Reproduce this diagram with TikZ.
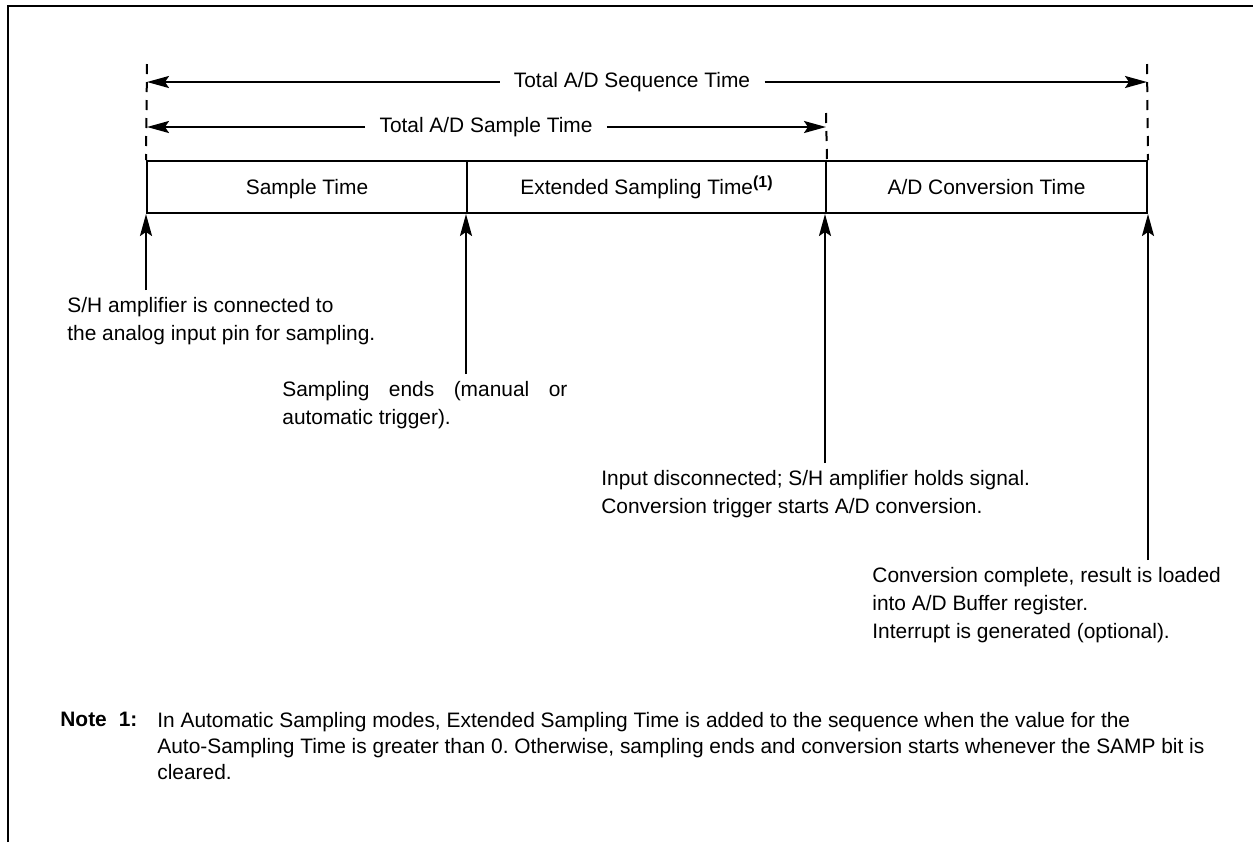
\documentclass[tikz,border=0pt]{standalone}
\usepackage{fontspec}
\setmainfont{Liberation Sans}
\usetikzlibrary{arrows.meta}
\frenchspacing

\newcommand{\diagfont}{\fontsize{10.45pt}{14pt}\selectfont}
\newcommand{\notefont}{\fontsize{10.45pt}{13pt}\selectfont}
\newcommand{\notemark}[1]{\raisebox{3.5pt}{\fontsize{8pt}{8pt}\selectfont\bfseries(#1)}}

\begin{document}
\begin{tikzpicture}[x=0.5pt,y=-0.5pt,>={Stealth[length=11pt,width=6pt,inset=2pt]},
  font=\diagfont,
  cell/.style={draw,line width=1pt,minimum height=26pt,inner sep=0pt,text height=7.5pt,text depth=0pt},
  dashline/.style={line width=1pt,dash pattern=on 5pt off 4pt},
  lead/.style={line width=1pt,->},
  spanlabel/.style={inner xsep=7pt,inner ysep=0pt},
  callout/.style={anchor=north west,align=left,inner sep=0pt}]
\useasboundingbox (0,0) rectangle (1253,842);
\draw[line width=1pt] (8,842) -- (8,6) -- (1253,6);
% the three phases
\node[cell,minimum width=160pt] (smp) at (307,187) {Sample Time};
\node[cell,minimum width=179.5pt] (ext) at (646.5,187) {Extended Sampling Time\notemark{1}};
\node[cell,minimum width=160.5pt] (conv) at (986.5,187) {A/D Conversion Time};
% dashed markers
\coordinate (ltop) at (147,64);
\coordinate (rtop) at (1147,64);
\coordinate (mtop) at (826,113);
\draw[dashline] (ltop) -- (smp.north west);
\draw[dashline] (rtop) -- (conv.north east);
\draw[dashline] (mtop) -- (ext.north east);
% spans
\node[spanlabel] (seq) at (632,82) {Total A/D Sequence Time};
\draw[lead] (seq) -- (seq -| ltop);
\draw[lead] (seq) -- (seq -| rtop);
\node[spanlabel] (samp) at (486,127) {Total A/D Sample Time};
\draw[lead] (samp) -- (samp -| ltop);
\draw[lead] (samp) -- (samp -| mtop);
% events
\node[callout] (sh) at (67,297) {S/H amplifier is connected to\\the analog input pin for sampling.};
\draw[lead] ([yshift=3.5pt]sh.north -| smp.south west) -- (smp.south west);
\node[callout] (send) at (282,381) {\makebox[142.5pt][s]{Sampling ends (manual or}\\automatic trigger).};
\draw[lead] ([yshift=3.5pt]send.north -| ext.south west) -- (ext.south west);
\node[callout] (hold) at (601,470) {Input disconnected; S/H amplifier holds signal.\\Conversion trigger starts A/D conversion.};
\draw[lead] ([yshift=3.5pt]hold.north -| conv.south west) -- (conv.south west);
\node[callout] (done) at (872,567) {Conversion complete, result is loaded\\into A/D Buffer register.\\Interrupt is generated (optional).};
\draw[lead] ([yshift=3.5pt]done.north -| conv.south east) -- (conv.south east);
% note
\node[anchor=north west,inner sep=0pt,font=\diagfont\bfseries] (notelbl) at (60,712) {Note\hspace{6pt}1:};
\node[callout,font=\notefont] (note) at (157,712) {In Automatic Sampling modes, Extended Sampling Time is added to the sequence when the value for the\\Auto-Sampling Time is greater than 0. Otherwise, sampling ends and conversion starts whenever the SAMP bit is\\cleared.};
\end{tikzpicture}
\end{document}
